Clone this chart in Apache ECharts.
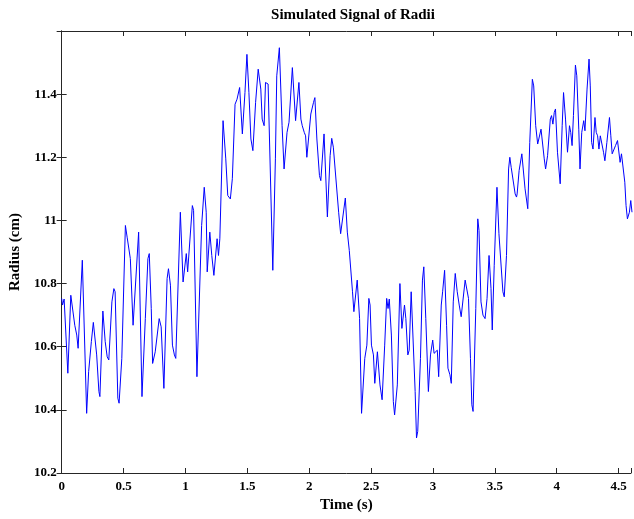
<!DOCTYPE html>
<html>
<head>
<meta charset="UTF-8">
<title>Simulated Signal of Radii</title>
<script src="https://cdn.jsdelivr.net/npm/echarts@6/dist/echarts.min.js"></script>
<style>
  html, body { margin: 0; padding: 0; background: #fff; }
  #chart { width: 634px; height: 519px; }
</style>
</head>
<body>
<div id="chart"></div>
<script>
// time (s) and radius (cm), vertex by vertex
var times = [
  0.000, 0.007, 0.020, 0.050, 0.074, 0.085, 0.106, 0.122, 0.133, 0.167,
  0.202, 0.218, 0.240, 0.256, 0.266, 0.283, 0.301, 0.309, 0.333, 0.352,
  0.368, 0.381, 0.406, 0.422, 0.432, 0.454, 0.464, 0.486, 0.515, 0.529,
  0.539, 0.555, 0.577, 0.622, 0.649, 0.676, 0.697, 0.708, 0.724, 0.735,
  0.745, 0.756, 0.767, 0.788, 0.804, 0.826, 0.852, 0.863, 0.879, 0.895,
  0.911, 0.922, 0.959, 0.981, 1.007, 1.018, 1.034, 1.056, 1.066, 1.093,
  1.104, 1.131, 1.152, 1.168, 1.176, 1.197, 1.213, 1.230, 1.256, 1.267,
  1.278, 1.304, 1.326, 1.342, 1.363, 1.379, 1.401, 1.417, 1.433, 1.438,
  1.460, 1.481, 1.497, 1.513, 1.529, 1.545, 1.567, 1.588, 1.609, 1.620,
  1.636, 1.647, 1.658, 1.668, 1.706, 1.727, 1.738, 1.759, 1.781, 1.797,
  1.821, 1.837, 1.864, 1.874, 1.890, 1.901, 1.917, 1.933, 1.944, 1.960,
  1.971, 1.981, 1.992, 2.013, 2.024, 2.035, 2.046, 2.062, 2.083, 2.094,
  2.120, 2.147, 2.169, 2.182, 2.195, 2.211, 2.238, 2.254, 2.265, 2.292,
  2.308, 2.324, 2.334, 2.350, 2.361, 2.388, 2.407, 2.423, 2.433, 2.449,
  2.466, 2.482, 2.492, 2.503, 2.519, 2.530, 2.551, 2.572, 2.589, 2.610,
  2.626, 2.637, 2.647, 2.664, 2.680, 2.690, 2.712, 2.733, 2.749, 2.760,
  2.770, 2.781, 2.797, 2.808, 2.824, 2.840, 2.856, 2.867, 2.877, 2.899,
  2.915, 2.926, 2.942, 2.963, 2.980, 2.998, 3.009, 3.025, 3.035, 3.046,
  3.067, 3.078, 3.094, 3.110, 3.121, 3.137, 3.148, 3.164, 3.180, 3.196,
  3.212, 3.228, 3.239, 3.260, 3.287, 3.303, 3.314, 3.324, 3.346, 3.362,
  3.372, 3.388, 3.404, 3.421, 3.437, 3.453, 3.469, 3.479, 3.495, 3.517,
  3.533, 3.544, 3.565, 3.576, 3.594, 3.611, 3.621, 3.632, 3.648, 3.664,
  3.675, 3.680, 3.696, 3.707, 3.718, 3.728, 3.744, 3.766, 3.782, 3.803,
  3.814, 3.830, 3.846, 3.857, 3.873, 3.883, 3.899, 3.910, 3.926, 3.948,
  3.958, 3.969, 3.980, 3.990, 4.006, 4.028, 4.044, 4.055, 4.071, 4.087,
  4.103, 4.113, 4.124, 4.135, 4.151, 4.162, 4.178, 4.188, 4.202, 4.218,
  4.228, 4.245, 4.261, 4.271, 4.282, 4.293, 4.309, 4.319, 4.330, 4.341,
  4.352, 4.362, 4.378, 4.389, 4.405, 4.426, 4.437, 4.448, 4.459, 4.475,
  4.491, 4.501, 4.512, 4.523, 4.533, 4.550, 4.560, 4.571, 4.587, 4.598,
  4.608
];
var radii = [
  10.753, 10.732, 10.751, 10.516, 10.763, 10.758, 10.668, 10.637, 10.595, 10.874,
  10.389, 10.521, 10.616, 10.677, 10.674, 10.574, 10.458, 10.442, 10.713, 10.616,
  10.568, 10.558, 10.742, 10.784, 10.774, 10.437, 10.421, 10.563, 10.984, 10.947,
  10.951, 10.879, 10.668, 10.963, 10.442, 10.689, 10.879, 10.895, 10.721, 10.547,
  10.553, 10.584, 10.589, 10.689, 10.663, 10.468, 10.816, 10.847, 10.795, 10.605,
  10.574, 10.563, 11.026, 10.805, 10.895, 10.837, 10.837, 11.047, 11.032, 10.505,
  10.511, 10.984, 11.105, 11.026, 10.837, 10.963, 10.889, 10.826, 10.942, 10.889,
  10.942, 11.316, 11.195, 11.079, 11.068, 11.132, 11.368, 11.384, 11.389, 11.421,
  11.274, 11.405, 11.526, 11.405, 11.258, 11.221, 11.374, 11.479, 11.416, 11.321,
  11.300, 11.437, 11.442, 11.432, 10.842, 11.195, 11.458, 11.547, 11.300, 11.163,
  11.279, 11.311, 11.484, 11.479, 11.316, 11.321, 11.437, 11.321, 11.300, 11.279,
  11.268, 11.200, 11.200, 11.337, 11.342, 11.374, 11.389, 11.258, 11.142, 11.126,
  11.274, 11.011, 11.205, 11.260, 11.232, 11.232, 11.026, 10.958, 10.963, 11.071,
  10.963, 10.905, 10.911, 10.774, 10.711, 10.811, 10.689, 10.389, 10.389, 10.563,
  10.605, 10.753, 10.732, 10.605, 10.574, 10.484, 10.584, 10.479, 10.432, 10.605,
  10.753, 10.721, 10.751, 10.637, 10.426, 10.384, 10.479, 10.800, 10.658, 10.653,
  10.732, 10.689, 10.574, 10.589, 10.774, 10.774, 10.458, 10.311, 10.332, 10.563,
  10.811, 10.853, 10.689, 10.458, 10.574, 10.621, 10.579, 10.574, 10.589, 10.505,
  10.732, 10.774, 10.842, 10.668, 10.532, 10.511, 10.484, 10.742, 10.832, 10.774,
  10.732, 10.695, 10.695, 10.811, 10.753, 10.563, 10.416, 10.395, 10.721, 11.005,
  10.968, 10.742, 10.700, 10.689, 10.753, 10.889, 10.784, 10.653, 10.858, 11.105,
  10.958, 10.958, 10.774, 10.758, 10.889, 11.163, 11.200, 11.168, 11.168, 11.084,
  11.074, 11.084, 11.158, 11.153, 11.211, 11.205, 11.100, 11.037, 11.247, 11.447,
  11.426, 11.300, 11.242, 11.242, 11.289, 11.284, 11.195, 11.163, 11.205, 11.321,
  11.332, 11.305, 11.342, 11.353, 11.216, 11.116, 11.300, 11.405, 11.321, 11.216,
  11.300, 11.279, 11.237, 11.332, 11.492, 11.458, 11.289, 11.163, 11.279, 11.316,
  11.284, 11.416, 11.511, 11.426, 11.247, 11.226, 11.326, 11.279, 11.268, 11.226,
  11.268, 11.271, 11.216, 11.189, 11.247, 11.326, 11.268, 11.211, 11.205, 11.237,
  11.253, 11.258, 11.184, 11.211, 11.216, 11.121, 11.047, 11.005, 11.026, 11.063,
  11.026
];

var xMin = 0, xMax = 4.6, xStep = 0.5;
var yMin = 10.2, yMax = 11.6, yStep = 0.2;

var fontFam = "'Liberation Serif', 'Times New Roman', serif";
var axisCol = '#262626';

var signal = [];
for (var i = 0; i < times.length; i++) {
    signal.push([times[i], radii[i]]);
}

function xLabel(v) {
    // only the 0.5 steps, not the extra tick at the limit
    if (Math.abs(v / xStep - Math.round(v / xStep)) > 1e-6) return '';
    return String(+v.toFixed(1));
}
function yLabel(v) {
    if (v > 11.5) return '';
    return String(+v.toFixed(1));
}

var chart = echarts.init(document.getElementById('chart'));

var option = {
    animation: false,
    backgroundColor: '#fff',
    title: {
        text: 'Simulated Signal of Radii',
        left: 348,
        textAlign: 'center',
        top: 3,
        textStyle: { fontFamily: fontFam, fontWeight: 'bold', fontSize: 15, color: '#000' }
    },
    grid: { left: 60, right: 0, top: 31, bottom: 46, containLabel: false },
    xAxis: [
        {
            type: 'value', min: xMin, max: xMax, interval: xStep,
            name: 'Time (s)', nameLocation: 'middle', nameGap: 22,
            nameTextStyle: { fontFamily: fontFam, fontWeight: 'bold', fontSize: 15, color: '#000' },
            axisLine: { show: true, lineStyle: { color: axisCol, width: 1 } },
            axisTick: { show: true, inside: true, length: 5, lineStyle: { color: axisCol } },
            axisLabel: { formatter: xLabel, margin: 7, fontFamily: fontFam, fontWeight: 'bold', fontSize: 13, color: '#000' },
            splitLine: { show: false }
        },
        {
            type: 'value', position: 'top', min: xMin, max: xMax, interval: xStep,
            axisLine: { show: true, lineStyle: { color: axisCol, width: 1 } },
            axisTick: { show: true, inside: true, length: 5, lineStyle: { color: axisCol } },
            axisLabel: { show: false },
            splitLine: { show: false }
        }
    ],
    yAxis: [
        {
            type: 'value', min: yMin, max: yMax, interval: yStep,
            name: 'Radius (cm)', nameLocation: 'middle', nameGap: 31,
            nameTextStyle: { fontFamily: fontFam, fontWeight: 'bold', fontSize: 15, color: '#000' },
            axisLine: { show: true, lineStyle: { color: axisCol, width: 1 } },
            axisTick: { show: true, inside: true, length: 5, lineStyle: { color: axisCol } },
            axisLabel: { formatter: yLabel, margin: 5, fontFamily: fontFam, fontWeight: 'bold', fontSize: 13, color: '#000' },
            splitLine: { show: false }
        },
        {
            type: 'value', position: 'right', min: yMin, max: yMax, interval: yStep,
            axisLine: { show: true, lineStyle: { color: axisCol, width: 1 } },
            axisTick: { show: true, inside: true, length: 5, lineStyle: { color: axisCol } },
            axisLabel: { show: false },
            splitLine: { show: false }
        }
    ],
    series: [
        {
            type: 'line',
            xAxisIndex: 0,
            yAxisIndex: 0,
            data: signal,
            showSymbol: false,
            symbol: 'none',
            lineStyle: { color: '#0000ff', width: 1 },
            itemStyle: { color: '#0000ff' }
        }
    ]
};

chart.setOption(option);
</script>
</body>
</html>
